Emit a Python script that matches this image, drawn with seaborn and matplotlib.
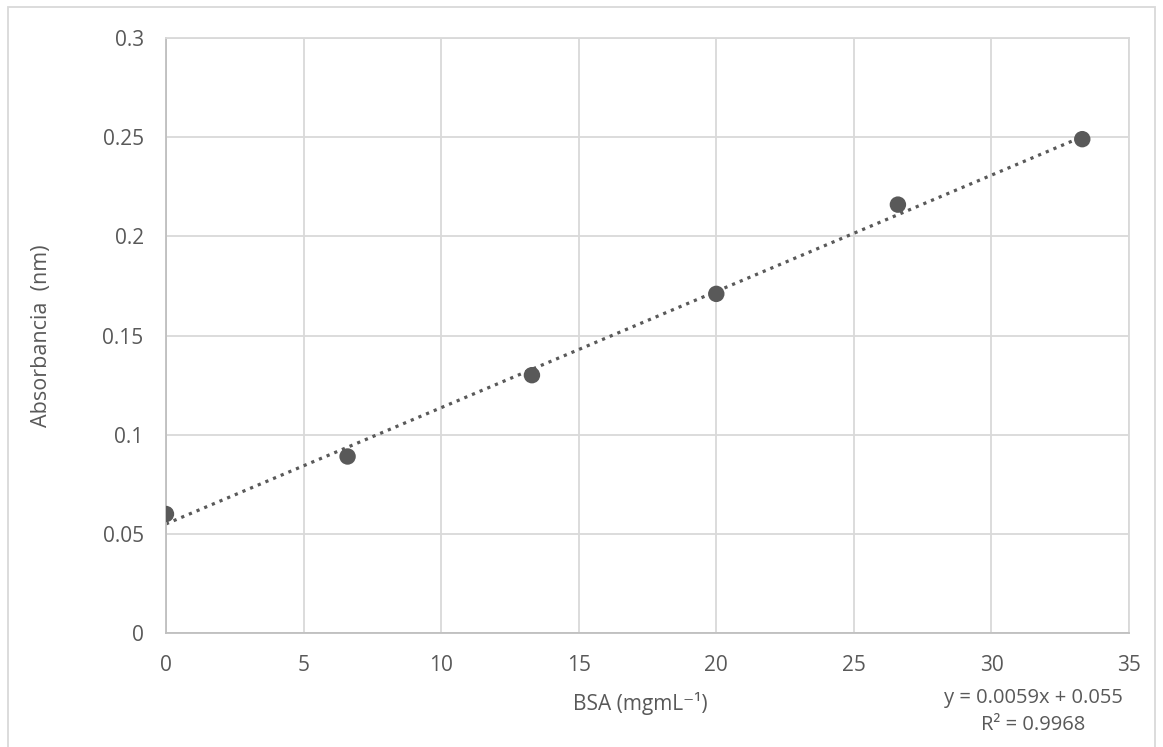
import matplotlib
matplotlib.use("Agg")
import matplotlib.pyplot as plt
import seaborn as sns
import pandas as pd
from matplotlib.patches import Rectangle

# Curva de calibracao BSA
bsa = [0, 6.6, 13.3, 20, 26.6, 33.3]
absorbancia = [0.060, 0.089, 0.130, 0.171, 0.216, 0.249]
eq_texto = "y = 0.0059x + 0.055"
r2_texto = "R² = 0.9968"

df = pd.DataFrame({"BSA": bsa, "Abs": absorbancia})

sns.set_style("white")
plt.rcParams['font.family'] = ['Open Sans', 'DejaVu Sans']
cinza = "#595959"

fig = plt.figure(figsize=(11.63, 7.47), dpi=100)
ax = fig.add_axes([0.1427, 0.1526, 0.9708 - 0.1427, 0.9491 - 0.1526])

sns.regplot(
    data=df, x="BSA", y="Abs", ax=ax, ci=None,
    scatter_kws={"s": 140, "color": cinza, "zorder": 3, "edgecolor": "none", "alpha": 1},
    line_kws={"color": cinza, "linestyle": (0, (1, 1.6)), "linewidth": 2.3, "zorder": 2},
)

ax.set_xlim(0, 35)
ax.set_ylim(0, 0.3)
ax.set_xticks(range(0, 36, 5))
ax.set_yticks([0, 0.05, 0.1, 0.15, 0.2, 0.25, 0.3])
ax.set_yticklabels(["0", "0.05", "0.1", "0.15", "0.2", "0.25", "0.3"])
ax.grid(True, color="#d9d9d9", linewidth=1.3)
ax.set_axisbelow(True)
for s in ax.spines.values():
    s.set_color("#d9d9d9")
    s.set_linewidth(1.3)
ax.spines["left"].set_color("#bfbfbf")
ax.spines["bottom"].set_color("#bfbfbf")
ax.tick_params(length=0, labelsize=15, colors=cinza)
ax.tick_params(axis="x", pad=16)
ax.tick_params(axis="y", pad=16)

ax.set_xlabel("BSA (mgmL⁻¹)", fontsize=15, color=cinza)
ax.set_ylabel("Absorbancia  (nm)", fontsize=15.5, color=cinza)
ax.xaxis.set_label_coords((640 - 166) / 963, (633 - 692) / 595)
ax.yaxis.set_label_coords((52 - 166) / 963, 0.5)

fig.text(1033 / 1163, 1 - 698 / 747, eq_texto, ha="center", va="center", fontsize=14.5, color=cinza)
fig.text(1033 / 1163, 1 - 725 / 747, r2_texto, ha="center", va="center", fontsize=14.5, color=cinza)

# borda externa do grafico
fig.patches.append(Rectangle((8 / 1163, -0.1), (1155 - 8) / 1163, 1.1 - 7 / 747,
                             transform=fig.transFigure, fill=False,
                             edgecolor="#d9d9d9", linewidth=1.3))

plt.savefig("out.png", dpi=100)
